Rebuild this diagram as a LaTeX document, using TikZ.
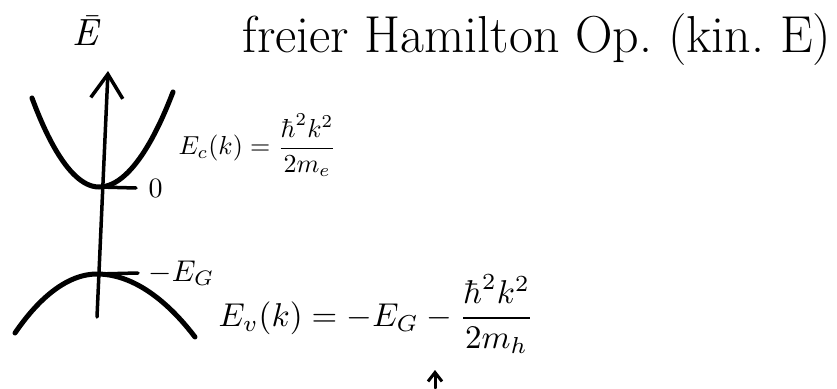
\documentclass[tikz,border=0pt]{standalone}
\usepackage{amsmath}
\usetikzlibrary{positioning,arrows.meta}

\begin{document}
\begin{tikzpicture}[
			x=1pt, y=-1pt,
			ink/.style={line width=3.5pt, line cap=round, line join=round},
			band/.style={line width=5pt, line cap=round},
			tip/.style={-{Straight Barb[length=24pt,width=32pt,line width=3.5pt]}},
			smalltip/.style={-{Straight Barb[length=9pt,width=14pt,line width=3pt]}},
			lbl/.style={inner sep=0pt},
			]
			\useasboundingbox (0,0) rectangle (837,388);
			
			% energy axis
			\coordinate (axisbot) at (97,317);
			\coordinate (axistop) at (108,71);
			\draw[ink,tip] (axisbot) -- (axistop);
			\node[lbl,scale=3.8] (elabel) at (87,31) {\textit{Ē}};
			
			% conduction band
			\coordinate (cvertex) at (99,187);
			\draw[band] (32,98) parabola bend (cvertex) (173,92);
			\coordinate (ctick) at (136,188);
			\draw[ink] (cvertex) -- (ctick);
			\node[lbl,scale=2.8,right=12pt of ctick] (zero) {$0$};
			
			% valence band
			\coordinate (vvertex) at (97,274);
			\draw[band] (15,333) parabola bend (vvertex) (195,337);
			\coordinate (vtick) at (138,273);
			\draw[ink] (vvertex) -- (vtick);
			\node[lbl,scale=3,right=10pt of vtick] (gap) {$-E_G$};
			
			% formulas
			\node[lbl,anchor=west,scale=2.6] (ecform) at (178,145)
			{$E_c(k)=\dfrac{\hbar^2k^2}{2m_e}$};
			\node[lbl,anchor=west,scale=3.3] (evform) at (218,314)
			{$E_v(k) = -E_G - \dfrac{\hbar^2k^2}{2m_h}$};
			
			\node[lbl,font=\fontsize{52}{56}\selectfont] (title) at (537,40)
			{freier Hamilton Op.\ (kin.\ E)};
			
			% pointer to E_G
			\coordinate (ptail) at (435,388);
			\coordinate (phead) at (435,370);
			\draw[ink,line width=3pt,smalltip] (ptail) -- (phead);
			
		\end{tikzpicture}
\end{document}
